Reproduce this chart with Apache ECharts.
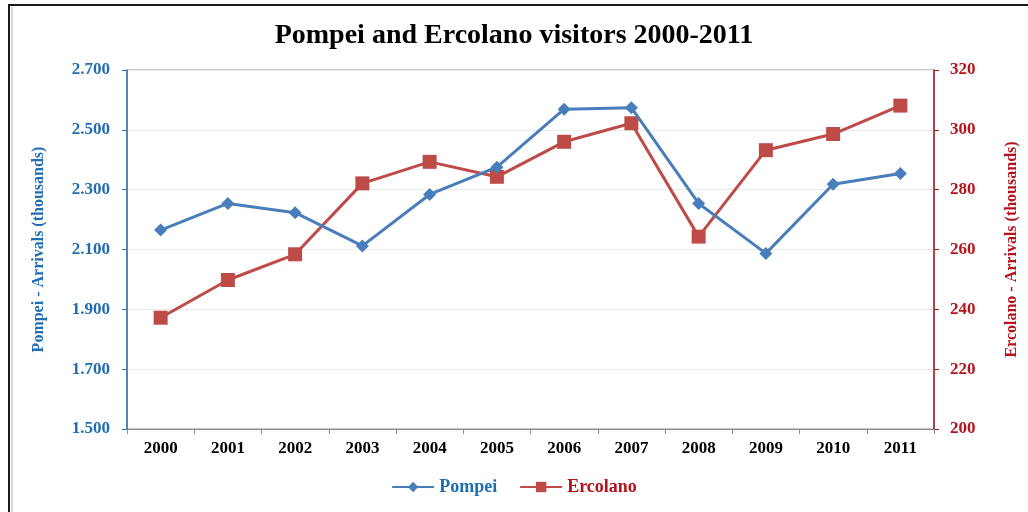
<!DOCTYPE html>
<html>
<head>
<meta charset="utf-8">
<script src="https://cdn.jsdelivr.net/npm/echarts@6/dist/echarts.min.js"></script>
<style>
  html, body { margin: 0; padding: 0; background: #ffffff; }
  #chart { width: 1028px; height: 512px; }
</style>
</head>
<body>
<div id="chart"></div>
<script>
// Yearly arrivals (thousands)
const years = ['2000', '2001', '2002', '2003', '2004', '2005', '2006', '2007', '2008', '2009', '2010', '2011'];
const pompei = [2165, 2254, 2223, 2112, 2284, 2375, 2569, 2574, 2254, 2087, 2318, 2354];
const ercolano = [237.2, 249.8, 258.4, 282.1, 289.3, 284.3, 296.0, 302.2, 264.3, 293.2, 298.6, 308.1];

const titleText = 'Pompei and Ercolano visitors 2000-2011';
const leftAxisName = 'Pompei - Arrivals (thousands)';
const rightAxisName = 'Ercolano - Arrivals (thousands)';

const serif = '"Liberation Serif", "Times New Roman", serif';
const blueText = '#1f6db3';
const redText = '#b5121b';
const pompeiColor = '#4a7ebb';
const ercolanoColor = '#be4b48';

// thousands separator as a dot: 2700 -> 2.700
const dotThousands = v => String(v).replace(/\B(?=(\d{3})+(?!\d))/g, '.');

const chart = echarts.init(document.getElementById('chart'), null, { renderer: 'canvas' });

chart.setOption({
  backgroundColor: '#ffffff',
  animation: false,
  title: {
    text: titleText,
    left: 'center',
    top: 17,
    textStyle: { fontFamily: serif, fontWeight: 'bold', fontSize: 28, color: '#000000' }
  },
  graphic: [
    { type: 'rect', shape: { x: 9, y: 5, width: 1100, height: 600 },
      style: { fill: 'none', stroke: '#1a1a1a', lineWidth: 2 }, silent: true, z: 100 },
    { type: 'line', shape: { x1: 12, y1: 7, x2: 12, y2: 512 },
      style: { stroke: '#b0b0b0', lineWidth: 1 }, silent: true, z: 100 }
  ],
  legend: {
    bottom: 11,
    left: 'center',
    itemWidth: 42,
    itemHeight: 13,
    itemGap: 22,
    data: [
      { name: 'Pompei', textStyle: { color: blueText } },
      { name: 'Ercolano', textStyle: { color: redText } }
    ],
    textStyle: { fontFamily: serif, fontWeight: 'bold', fontSize: 18 }
  },
  grid: {
    left: 127, right: 92, top: 70, bottom: 83,
    show: true, borderColor: '#8a96a8', borderWidth: 1, backgroundColor: 'transparent'
  },
  xAxis: {
    type: 'category',
    data: years,
    boundaryGap: true,
    axisLine: { lineStyle: { color: '#8a8a8a', width: 1 } },
    axisTick: { show: true, length: 5, lineStyle: { color: '#8a8a8a' } },
    axisLabel: { margin: 11, fontFamily: serif, fontWeight: 'bold', fontSize: 17, color: '#000000' }
  },
  yAxis: [
    {
      type: 'value',
      min: 1500, max: 2700, interval: 200,
      position: 'left',
      name: leftAxisName,
      nameLocation: 'middle',
      nameGap: 80,
      nameTextStyle: { fontFamily: serif, fontWeight: 'bold', fontSize: 16, color: blueText },
      axisLine: { show: true, lineStyle: { color: '#2f6fb0', width: 1.5 } },
      axisTick: { show: true, length: 5, lineStyle: { color: '#2f6fb0' } },
      axisLabel: { margin: 17, formatter: dotThousands, fontFamily: serif, fontWeight: 'bold', fontSize: 17, color: blueText },
      splitLine: { show: true, lineStyle: { color: '#ececec', width: 1 } }
    },
    {
      type: 'value',
      min: 200, max: 320, interval: 20,
      position: 'right',
      name: rightAxisName,
      nameLocation: 'middle',
      nameGap: 70,
      nameRotate: 90,
      nameTextStyle: { fontFamily: serif, fontWeight: 'bold', fontSize: 16, color: redText },
      axisLine: { show: true, lineStyle: { color: '#a31a1f', width: 1.5 } },
      axisTick: { show: true, length: 5, lineStyle: { color: '#a31a1f' } },
      axisLabel: { margin: 16, fontFamily: serif, fontWeight: 'bold', fontSize: 17, color: redText },
      splitLine: { show: false }
    }
  ],
  series: [
    {
      name: 'Pompei',
      type: 'line',
      yAxisIndex: 0,
      data: pompei,
      symbol: 'diamond',
      symbolSize: 13,
      lineStyle: { color: pompeiColor, width: 3 },
      itemStyle: { color: pompeiColor },
      z: 3
    },
    {
      name: 'Ercolano',
      type: 'line',
      yAxisIndex: 1,
      data: ercolano,
      symbol: 'rect',
      symbolSize: 14,
      lineStyle: { color: ercolanoColor, width: 3 },
      itemStyle: { color: ercolanoColor },
      z: 2
    }
  ]
});
</script>
</body>
</html>
